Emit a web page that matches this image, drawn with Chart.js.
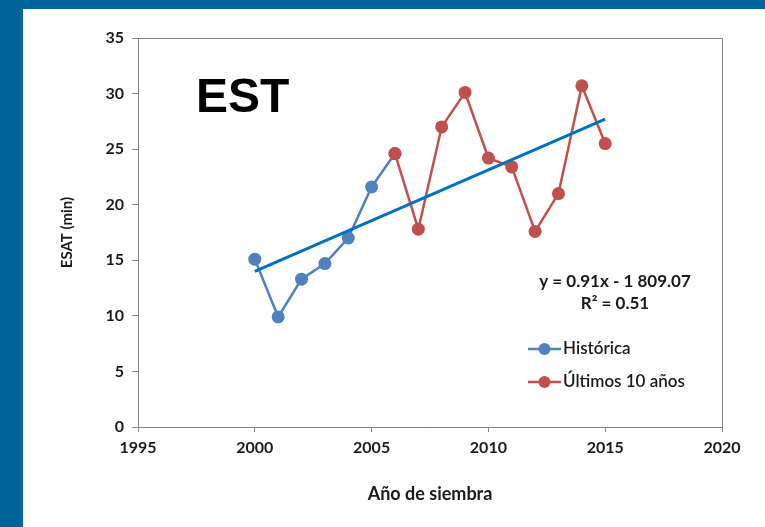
<!DOCTYPE html>
<html>
<head>
<meta charset="utf-8">
<script src="https://cdn.jsdelivr.net/npm/chart.js@4"></script>
<style>
  html, body { margin: 0; padding: 0; }
  body { width: 765px; height: 527px; background: #00649a; position: relative; overflow: hidden; }
  #panel { position: absolute; left: 23px; top: 9px; width: 742px; height: 518px; background: #fff; }
  #chart { display: block; }
</style>
</head>
<body>
<div id="panel"><canvas id="chart" width="742" height="518"></canvas></div>
<script>
// data
const historicYears = [2000, 2001, 2002, 2003, 2004, 2005, 2006];
const historicValues = [15.1, 9.9, 13.3, 14.7, 17.0, 21.6, 24.6];

const recentYears = [2006, 2007, 2008, 2009, 2010, 2011, 2012, 2013, 2014, 2015];
const recentValues = [24.6, 17.8, 27.0, 30.1, 24.2, 23.4, 17.6, 21.0, 30.7, 25.5];

const trendYears = [2000, 2015];
const trendValues = [14.0, 27.7];

const xTicks = [1995, 2000, 2005, 2010, 2015, 2020];
const yTicks = [0, 5, 10, 15, 20, 25, 30, 35];

const blue = '#4F81BD';
const red = '#C0504D';
const trendBlue = '#0070C0';
const axisGray = '#868686';
const textColor = '#1a1a1a';
const font = 'Lato, "Open Sans", sans-serif';

const toPoints = (xs, ys) => xs.map((x, i) => ({ x: x, y: ys[i] }));

// top/right frame, big label, equation and legend
const extras = {
  id: 'extras',
  afterDraw(chart) {
    const ctx = chart.ctx;
    const a = chart.chartArea;
    ctx.save();
    ctx.strokeStyle = axisGray;
    ctx.lineWidth = 1;
    ctx.beginPath();
    ctx.moveTo(a.left, a.top + 0.5);
    ctx.lineTo(a.right + 0.5, a.top + 0.5);
    ctx.lineTo(a.right + 0.5, a.bottom);
    ctx.stroke();

    ctx.fillStyle = '#000';
    ctx.font = 'bold 48px "Liberation Sans", Arial, sans-serif';
    ctx.textBaseline = 'alphabetic';
    ctx.textAlign = 'left';
    ctx.fillText('EST', 173, 103);

    ctx.fillStyle = textColor;
    ctx.font = 'bold 17px ' + font;
    ctx.textAlign = 'center';
    ctx.textBaseline = 'middle';
    ctx.fillText('y = 0.91x - 1 809.07', 592, 273);
    ctx.fillText('R² = 0.51', 592, 295);

    const items = [
      { label: 'Histórica', color: blue, y: 340 },
      { label: 'Últimos 10 años', color: red, y: 373 }
    ];
    items.forEach(it => {
      ctx.strokeStyle = it.color;
      ctx.lineWidth = 2.5;
      ctx.beginPath();
      ctx.moveTo(505, it.y);
      ctx.lineTo(538, it.y);
      ctx.stroke();
      ctx.fillStyle = it.color;
      ctx.beginPath();
      ctx.arc(521.5, it.y, 6, 0, Math.PI * 2);
      ctx.fill();
      ctx.fillStyle = textColor;
      ctx.font = '600 17px ' + font;
      ctx.textAlign = 'left';
      ctx.fillText(it.label, 540, it.y);
    });
    ctx.restore();
  }
};

const ctx = document.getElementById('chart').getContext('2d');
new Chart(ctx, {
  type: 'line',
  data: {
    datasets: [
      {
        label: 'Tendencia',
        data: toPoints(trendYears, trendValues),
        borderColor: trendBlue,
        borderWidth: 3,
        pointRadius: 0,
        order: 0
      },
      {
        label: 'Últimos 10 años',
        data: toPoints(recentYears, recentValues),
        borderColor: red,
        backgroundColor: red,
        borderWidth: 2.5,
        pointRadius: 6.5,
        pointBorderWidth: 0,
        order: 1
      },
      {
        label: 'Histórica',
        data: toPoints(historicYears, historicValues),
        borderColor: blue,
        backgroundColor: blue,
        borderWidth: 2.5,
        pointRadius: 6.5,
        pointBorderWidth: 0,
        order: 2
      }
    ]
  },
  options: {
    responsive: false,
    animation: false,
    layout: { padding: { left: 0, right: 43, top: 29, bottom: 0 } },
    plugins: {
      legend: { display: false },
      tooltip: { enabled: false }
    },
    scales: {
      x: {
        type: 'linear',
        min: 1995,
        max: 2020,
        afterBuildTicks: s => { s.ticks = xTicks.map(v => ({ value: v })); },
        afterFit: s => { s.height = 100; },
        grid: { drawOnChartArea: false, tickLength: 5, color: axisGray },
        border: { color: axisGray, width: 1 },
        ticks: {
          color: textColor,
          padding: 6,
          font: { family: font, size: 16, weight: 'bold' },
          callback: v => String(v)
        },
        title: {
          display: true,
          text: 'Año de siembra',
          color: textColor,
          font: { family: font, size: 18, weight: 'bold' },
          padding: { top: 0, bottom: 22 }
        }
      },
      y: {
        min: 0,
        max: 35,
        afterBuildTicks: s => { s.ticks = yTicks.map(v => ({ value: v })); },
        afterFit: s => { s.width = 115; },
        grid: { drawOnChartArea: false, tickLength: 6, color: axisGray },
        border: { color: axisGray, width: 1 },
        ticks: { color: textColor, padding: 8, font: { family: font, size: 16, weight: 'bold' } },
        title: {
          display: true,
          text: 'ESAT (min)',
          color: textColor,
          font: { family: font, size: 15, weight: 'bold' },
          padding: { top: 35, bottom: 0 }
        }
      }
    }
  },
  plugins: [extras]
});
</script>
</body>
</html>
